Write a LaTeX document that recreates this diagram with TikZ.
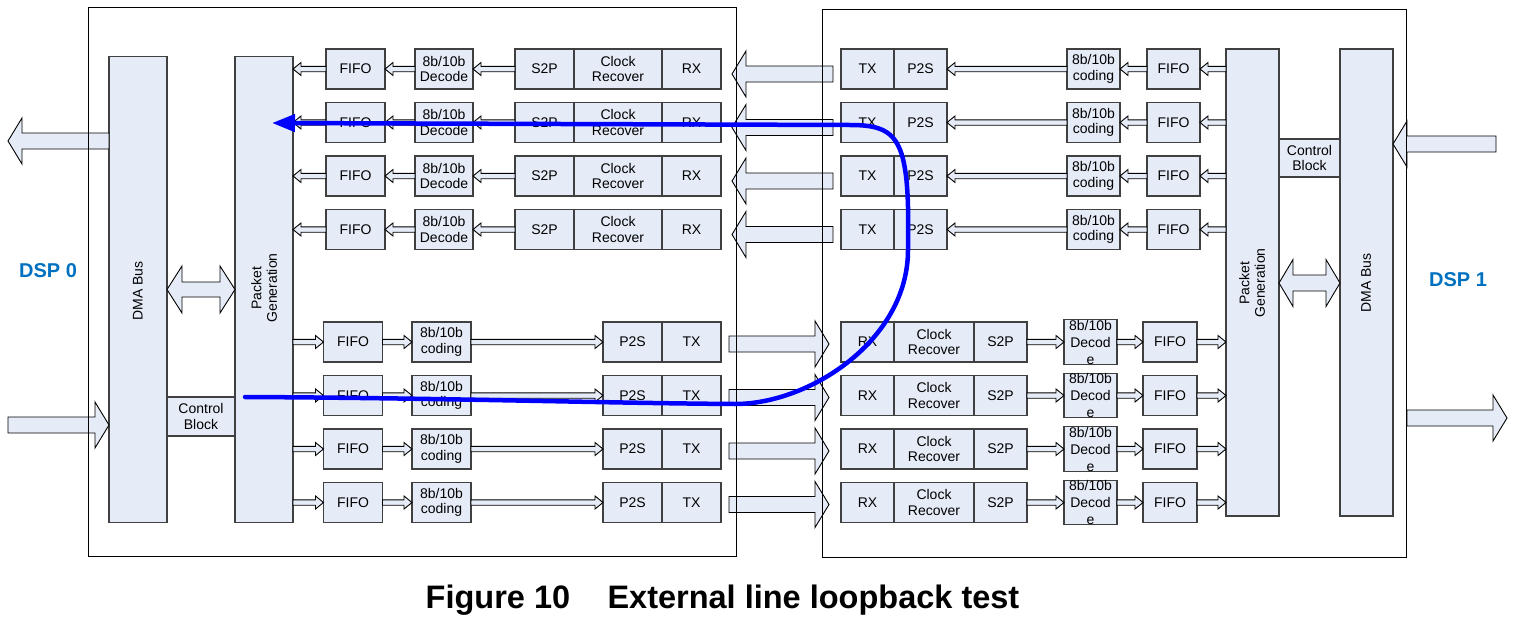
\documentclass[tikz,border=0pt]{standalone}
\usepackage{fontspec}
\setmainfont{Liberation Sans}
\usepackage{xcolor}
\usetikzlibrary{positioning,calc,arrows.meta}

\definecolor{boxfill}{RGB}{230,236,247}
\definecolor{boxline}{RGB}{64,64,64}
\definecolor{dspblue}{RGB}{0,112,192}

\begin{document}
\begin{tikzpicture}[x=1pt, y=-1pt,
    blk/.style={draw=boxline, fill=boxfill, line width=1.1pt, inner sep=0pt, outer sep=0pt,
      align=center, font=\fontsize{14}{15.5}\selectfont},
    cell/.style={blk, minimum height=40pt},
    tall/.style={blk, minimum height=466pt},
    lbl/.style={inner sep=0pt, align=center, font=\fontsize{14}{15.5}\selectfont},
    chipline/.style={draw=black, line width=0.9pt},
    barrow/.style n args={3}{draw=black, fill=boxfill, line width=0.9pt,
      to path={let \p1=(\tikztostart), \p2=(\tikztotarget), \n1={sign(\x2-\x1)} in
        (\x1,{\y1+#1}) -- ({\x2-(\n1)*#3},{\y1+#1}) -- ({\x2-(\n1)*#3},{\y1+#2}) -- (\x2,\y1)
        -- ({\x2-(\n1)*#3},{\y1-#2}) -- ({\x2-(\n1)*#3},{\y1-#1}) -- (\x1,{\y1-#1}) -- cycle}},
    dbarrow/.style n args={3}{draw=black, fill=boxfill, line width=0.9pt,
      to path={let \p1=(\tikztostart), \p2=(\tikztotarget), \n1={sign(\x2-\x1)} in
        (\x1,\y1) -- ({\x1+(\n1)*#3},{\y1+#2}) -- ({\x1+(\n1)*#3},{\y1+#1})
        -- ({\x2-(\n1)*#3},{\y1+#1}) -- ({\x2-(\n1)*#3},{\y1+#2}) -- (\x2,\y1)
        -- ({\x2-(\n1)*#3},{\y1-#2}) -- ({\x2-(\n1)*#3},{\y1-#1})
        -- ({\x1+(\n1)*#3},{\y1-#1}) -- ({\x1+(\n1)*#3},{\y1-#2}) -- cycle}},
    smallarr/.style={barrow={2.7pt}{6.5pt}{8pt}},
    bigarr/.style={barrow={8pt}{23pt}{14pt}},
    duplexarr/.style={dbarrow={7.5pt}{23.5pt}{15pt}},
    looppath/.style={draw=blue, line width=4.5pt, line cap=round,
      -{Triangle[length=23pt,width=17pt]}}
  ]
  \useasboundingbox (0,0) rectangle (1532,629);

  % DSP 0: DMA bus, packet generation, control block
  \node[tall, minimum width=58pt] (dmaL) at (138,289.5) {};
  \node[tall, minimum width=58pt] (pgL) at (264,289.5) {};
  \node[lbl, rotate=90] (dmaLtxt) at (138,291) {DMA Bus};
  \node[lbl, rotate=90] (pgLtxt) at (264,288) {Packet\\Generation};
  \node[blk, minimum width=68pt, minimum height=39pt] (ctlL) at (201,416.5) {Control\\Block};

  % DSP 1: packet generation, DMA bus, control block
  \node[tall, minimum width=53pt, minimum height=467pt] (pgR) at (1252.5,282.5) {};
  \node[tall, minimum width=53pt, minimum height=467pt] (dmaR) at (1366.5,282.5) {};
  \node[lbl, rotate=90] (pgRtxt) at (1252,283) {Packet\\Generation};
  \node[lbl, rotate=90] (dmaRtxt) at (1366,283) {DMA Bus};
  \node[blk, minimum width=61pt, minimum height=38pt] (ctlR) at (1309.5,158) {Control\\Block};

  % lanes DSP 1 -> DSP 0
  \foreach \r/\y in {1/69,2/122.5,3/176,4/229.5} {
    \node[cell, minimum width=59pt] (fifoA\r) at (355.5,\y) {FIFO};
    \node[cell, minimum width=58pt] (decA\r) at (444,\y) {8b/10b\\Decode};
    \node[cell, minimum width=59pt] (s2pA\r) at (544.5,\y) {S2P};
    \node[cell, minimum width=88pt, right=0pt of s2pA\r] (crA\r) {Clock\\Recover};
    \node[cell, minimum width=59pt, right=0pt of crA\r] (rxA\r) {RX};
    \draw[smallarr] (s2pA\r.west) to (decA\r.east);
    \draw[smallarr] (decA\r.west) to (fifoA\r.east);
    \draw[smallarr] (fifoA\r.west) to (pgL.east |- fifoA\r.west);

    \node[cell, minimum width=53pt] (txB\r) at (867.5,\y) {TX};
    \node[cell, minimum width=53pt, right=0pt of txB\r] (p2sB\r) {P2S};
    \node[cell, minimum width=53pt] (codB\r) at (1093.5,\y) {8b/10b\\coding};
    \node[cell, minimum width=53pt] (fifoB\r) at (1173.5,\y) {FIFO};
    \draw[smallarr] (pgR.west |- fifoB\r.east) to (fifoB\r.east);
    \draw[smallarr] (fifoB\r.west) to (codB\r.east);
    \draw[smallarr] (codB\r.west) to (p2sB\r.east);

    \coordinate (tailA\r) at ($(txB\r.west)+(-8,5)$);
    \coordinate (headA\r) at ($(rxA\r.east)+(11,5)$);
    \draw[bigarr] (tailA\r) to (headA\r);
  }

  % lanes DSP 0 -> DSP 1
  \foreach \r/\y in {5/342,6/395.5,7/449,8/502.5} {
    \node[cell, minimum width=59pt] (fifoC\r) at (353,\y) {FIFO};
    \node[cell, minimum width=59pt] (codC\r) at (441.5,\y) {8b/10b\\coding};
    \node[cell, minimum width=59pt] (p2sC\r) at (632.5,\y) {P2S};
    \node[cell, minimum width=59pt, right=0pt of p2sC\r] (txC\r) {TX};
    \draw[smallarr] (pgL.east |- fifoC\r.west) to (fifoC\r.west);
    \draw[smallarr] (fifoC\r.east) to (codC\r.west);
    \draw[smallarr] (codC\r.east) to (p2sC\r.west);

    \node[cell, minimum width=53pt] (rxD\r) at (867.5,\y) {RX};
    \node[cell, minimum width=80pt, right=0pt of rxD\r] (crD\r) {Clock\\Recover};
    \node[cell, minimum width=53pt, right=0pt of crD\r] (s2pD\r) {S2P};
    \node[cell, minimum width=53pt, font=\fontsize{14}{17}\selectfont] (decD\r) at (1090.5,\y) {8b/10b\\Decod\\e};
    \node[cell, minimum width=54pt] (fifoD\r) at (1170,\y) {FIFO};
    \draw[smallarr] (s2pD\r.east) to (decD\r.west);
    \draw[smallarr] (decD\r.east) to (fifoD\r.west);
    \draw[smallarr] (fifoD\r.east) to (pgR.west |- fifoD\r.east);

    \coordinate (tailC\r) at ($(txC\r.east)+(8,2)$);
    \coordinate (headC\r) at ($(rxD\r.west)+(-12,2)$);
    \draw[bigarr] (tailC\r) to (headC\r);
  }

  % bus arrows
  \coordinate (busL) at (0,289.5);
  \draw[duplexarr] (dmaL.east |- busL) to (pgL.west |- busL);
  \coordinate (busR) at (0,283);
  \draw[dbarrow={8pt}{23.5pt}{14pt}] (pgR.east |- busR) to (dmaR.west |- busR);

  % host side arrows
  \coordinate (outL) at (8,141);
  \draw[bigarr] (dmaL.west |- outL) to (outL);
  \coordinate (inL) at (8,425);
  \draw[bigarr] (inL) to (dmaL.west |- inL);
  \coordinate (inR) at (1496,144);
  \draw[bigarr] (inR) to (dmaR.east |- inR);
  \coordinate (outRtail) at (1407,418);
  \coordinate (outR) at (1507,418);
  \draw[bigarr] (outRtail) to (outR);

  % chip outlines
  \draw[chipline] (88,7) rectangle (736,556);
  \draw[chipline] (822,9) rectangle (1406,557);

  \node[font=\fontsize{20}{24}\selectfont\bfseries, text=dspblue] (dsp0) at (48,271) {DSP 0};
  \node[font=\fontsize{20}{24}\selectfont\bfseries, text=dspblue] (dsp1) at (1458,280) {DSP 1};

  % loopback path
  \coordinate (loopS) at (245,397);
  \coordinate (loopE) at (272,123);
  \draw[looppath] (loopS) .. controls (450,398) and (600,403) .. (735,404)
    .. controls (810,404) and (908,340) .. (908,250)
    .. controls (910,140) and (900,125) .. (850,125) -- (loopE);

  \node[font=\fontsize{32.5}{36}\selectfont\bfseries] (caption) at (722.5,600)
    {Figure 10\hspace{1.15em}External line loopback test};
\end{tikzpicture}
\end{document}
